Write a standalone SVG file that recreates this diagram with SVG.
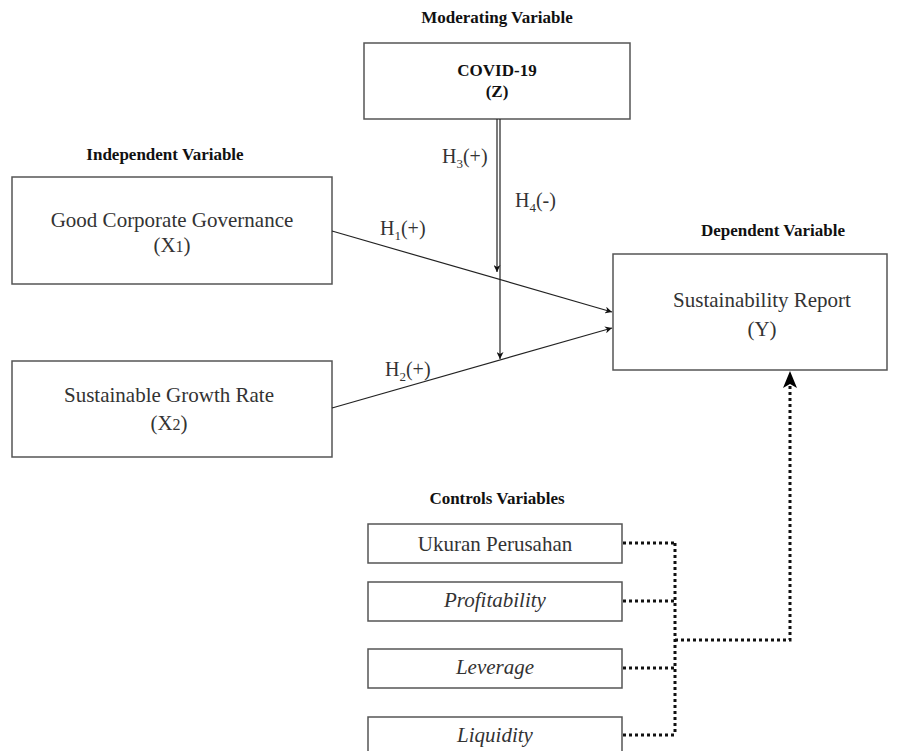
<svg xmlns="http://www.w3.org/2000/svg" width="899" height="751" viewBox="0 0 899 751">
<style>
text{font-family:"Liberation Serif",Tinos,"Times New Roman",Times,"DejaVu Serif",serif}
.box{fill:#fff;stroke:#555;stroke-width:1.5}
.t{font-size:21px;fill:#333;text-anchor:middle}
.i{font-style:italic}
.ttl{font-size:17px;font-weight:bold;fill:#111;text-anchor:middle}
.h{font-size:20px;fill:#333}
.ln{stroke:#222;stroke-width:1.2;fill:none}
.dot{stroke:#111;stroke-width:3;fill:none;stroke-dasharray:3 3}
</style>
<defs>
<marker id="ar" viewBox="0 0 10 10" refX="10" refY="5" markerWidth="7" markerHeight="7" markerUnits="userSpaceOnUse" orient="auto">
<path d="M0,0 L10,5 L0,10 L3,5 z" fill="#111"/>
</marker>
</defs>
<rect width="899" height="751" fill="#fff"/>
<text class="ttl" x="497" y="23" font-family="Liberation Serif, serif">Moderating Variable</text>
<text class="ttl" x="165" y="160" font-family="Liberation Serif, serif">Independent Variable</text>
<text class="ttl" x="773" y="236" font-family="Liberation Serif, serif">Dependent Variable</text>
<text class="ttl" x="497" y="504" font-family="Liberation Serif, serif">Controls Variables</text>
<g id="covid">
<rect class="box" x="364" y="43" width="266" height="76"/>
<text class="ttl" x="497" y="76">COVID-19</text>
<text class="ttl" x="497" y="97">(Z)</text>
</g>
<g id="gcg">
<rect class="box" x="12" y="177" width="320" height="107"/>
<text class="t" x="172" y="227">Good Corporate Governance</text>
<text class="t" x="172" y="252">(X<tspan font-size="16">1</tspan>)</text>
</g>
<g id="sgr">
<rect class="box" x="12" y="361" width="320" height="96"/>
<text class="t" x="169" y="402">Sustainable Growth Rate</text>
<text class="t" x="169" y="430">(X<tspan font-size="16">2</tspan>)</text>
</g>
<g id="sr">
<rect class="box" x="613" y="254" width="274" height="116"/>
<text class="t" x="762" y="307">Sustainability Report</text>
<text class="t" x="762" y="336">(Y)</text>
</g>
<g id="ukuran">
<rect class="box" x="368" y="524" width="254" height="39"/>
<text class="t" x="495" y="551">Ukuran Perusahan</text>
</g>
<g id="profit">
<rect class="box" x="368" y="582" width="254" height="39"/>
<text class="t i" x="495" y="607">Profitability</text>
</g>
<g id="leverage">
<rect class="box" x="368" y="649" width="254" height="39"/>
<text class="t i" x="495" y="674">Leverage</text>
</g>
<g id="liquidity">
<rect class="box" x="368" y="717" width="254" height="45"/>
<text class="t i" x="495" y="742">Liquidity</text>
</g>
<g id="connectors">
<line class="ln" x1="332" y1="231" x2="612" y2="312" marker-end="url(#ar)"/>
<line class="ln" x1="332" y1="408" x2="612" y2="328" marker-end="url(#ar)"/>
<line class="ln" x1="497" y1="119" x2="497" y2="272" marker-end="url(#ar)"/>
<line class="ln" x1="500" y1="119" x2="500" y2="359" marker-end="url(#ar)"/>
<path class="dot" d="M623,543 H675 M623,601 H675 M623,668 H675 M623,735 H675 M675,543 V735 M675,640 H790 V386"/>
<path d="M790,371 L797,388 L790,384 L783,388 Z" fill="#000"/>
<text class="h" x="380" y="235">H<tspan font-size="13" dy="5">1</tspan><tspan dy="-5">(+)</tspan></text>
<text class="h" x="385" y="376">H<tspan font-size="13" dy="5">2</tspan><tspan dy="-5">(+)</tspan></text>
<text class="h" x="442" y="163">H<tspan font-size="13" dy="5">3</tspan><tspan dy="-5">(+)</tspan></text>
<text class="h" x="515" y="207">H<tspan font-size="13" dy="5">4</tspan><tspan dy="-5">(-)</tspan></text>
</g>
</svg>
